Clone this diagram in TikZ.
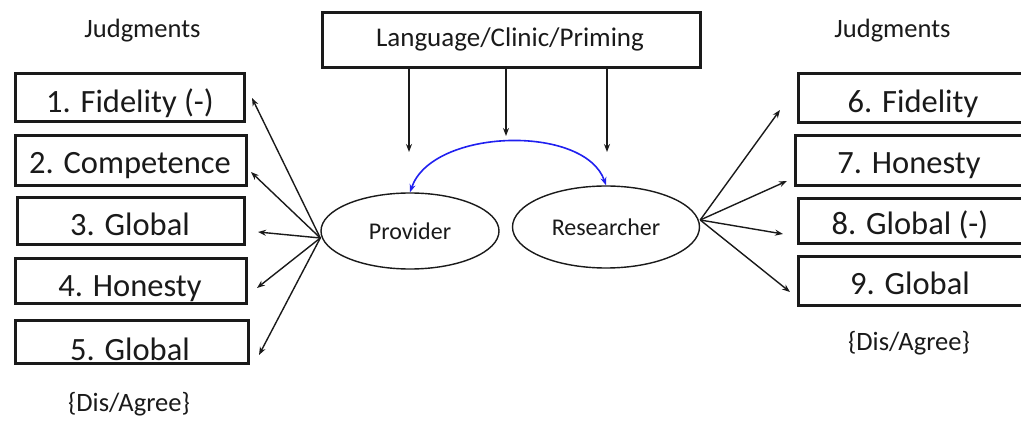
\documentclass[tikz,border=0pt]{standalone}
\usepackage{fontspec}
\setmainfont{Carlito}
\usetikzlibrary{arrows.meta,shapes.geometric,calc}

\definecolor{inkblack}{HTML}{1A1A1A}
\definecolor{linkblue}{HTML}{2020F0}

\tikzset{
  box/.style={draw=inkblack, line width=3pt, inner sep=0pt, rectangle},
  item/.style={anchor=base, inner sep=0pt, text=inkblack,
    font=\fontsize{32.5}{39}\selectfont},
  heading/.style={anchor=base, inner sep=0pt, text=inkblack,
    font=\fontsize{26.5}{32}\selectfont},
  latent/.style={draw=inkblack, line width=1.4pt, ellipse, inner sep=0pt,
    text=inkblack, font=\fontsize{24}{29}\selectfont},
  link/.style={draw=inkblack, line width=1.4pt,
    -{Stealth[length=8pt,width=6pt]}},
  corr/.style={draw=linkblue, line width=1.6pt,
    {Stealth[length=8pt,width=6pt]}-{Stealth[length=8pt,width=6pt]}}
}

\begin{document}
\begin{tikzpicture}[x=1pt,y=-1pt]
  \clip (0,0) rectangle (1021,422);
  \fill[white] (0,0) rectangle (1021,422);

  % column headings and scale notes
  \node[heading] (hl) at (142.5,38) {Judgments};
  \node[heading] (hr) at (892.5,38) {Judgments};
  \node[heading] (sl) at (129,411) {\{Dis/Agree\}};
  \node[heading] (sr) at (909,350) {\{Dis/Agree\}};

  % condition box
  \node[box, minimum width=378, minimum height=55] (cond) at (511.5,40) {};
  \node[heading, font=\fontsize{27}{32}\selectfont] (condt) at (510,47) {Language/Clinic/Priming};

  % left judgment boxes
  \node[box, minimum width=229, minimum height=48] (b1) at (130,97.5) {};
  \node[box, minimum width=231, minimum height=50] (b2) at (131,160.5) {};
  \node[box, minimum width=227, minimum height=47] (b3) at (131,221) {};
  \node[box, minimum width=231, minimum height=45] (b4) at (131,281) {};
  \node[box, minimum width=233, minimum height=43] (b5) at (132,342) {};
  \node[item] (t1) at (130,113) {1. Fidelity (-)};
  \node[item] (t2) at (130,174) {2. Competence};
  \node[item] (t3) at (130,236) {3. Global};
  \node[item] (t4) at (130,297) {4. Honesty};
  \node[item] (t5) at (130,360) {5. Global};

  % right judgment boxes (run off the right edge)
  \node[box, minimum width=225, minimum height=49] (b6) at (911,98) {};
  \node[box, minimum width=228, minimum height=50] (b7) at (909.5,160.5) {};
  \node[box, minimum width=225, minimum height=45] (b8) at (911,221) {};
  \node[box, minimum width=225, minimum height=49] (b9) at (911,281) {};
  \node[item] (t6) at (913,113) {6. Fidelity};
  \node[item] (t7) at (909,174) {7. Honesty};
  \node[item] (t8) at (910,235) {8. Global (-)};
  \node[item] (t9) at (910,295) {9. Global};

  % latent variables
  \node[latent, minimum width=178, minimum height=76] (prov) at (410,231) {Provider};
  \node[latent, minimum width=187, minimum height=82] (res) at (606,227) {Researcher};

  % influences from the condition box
  \coordinate (d1) at (409,152);
  \coordinate (d2) at (506,136);
  \coordinate (d3) at (607,152);
  \draw[link] (cond.south -| d1) -- (d1);
  \draw[link] (cond.south -| d2) -- (d2);
  \draw[link] (cond.south -| d3) -- (d3);

  % correlation between the two latent variables
  \draw[corr] (prov.north) .. controls (432,128) and (585,124) .. (res.north);

  % loadings of Provider
  \coordinate (po) at ([yshift=-7pt]prov.west);
  \coordinate (l1) at (252,98);
  \coordinate (l2) at (251,172);
  \coordinate (l3) at (258,232);
  \coordinate (l4) at (257,288);
  \coordinate (l5) at (259,355);
  \foreach \t in {l1,l2,l3,l4,l5} \draw[link] (po) -- (\t);

  % loadings of Researcher
  \coordinate (ro) at ([yshift=7pt]res.east);
  \coordinate (r6) at (780,110);
  \coordinate (r7) at (787,181);
  \coordinate (r8) at (783,234);
  \coordinate (r9) at (790,292);
  \foreach \t in {r6,r7,r8,r9} \draw[link] (ro) -- (\t);
\end{tikzpicture}
\end{document}
